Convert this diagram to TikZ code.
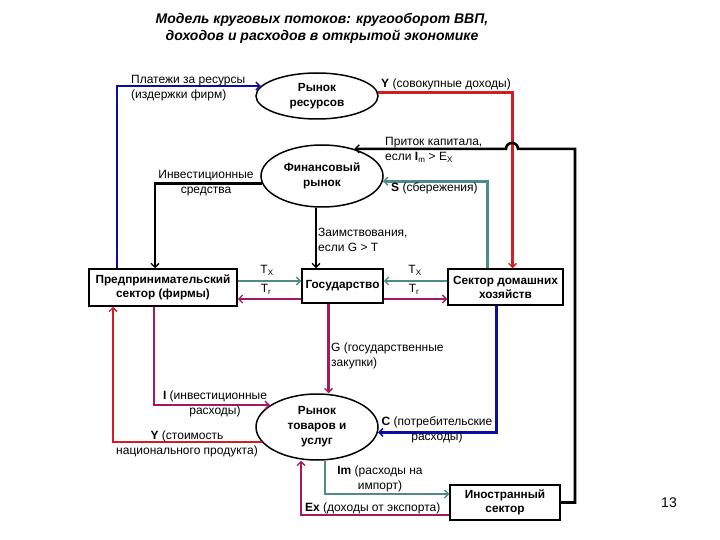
\documentclass[tikz,border=0pt]{standalone}
\usepackage{fontspec}
\setmainfont{Liberation Sans}
\usetikzlibrary{arrows.meta, shapes.geometric, positioning, calc}
\definecolor{flowblue}{RGB}{12,12,165}
\definecolor{flowred}{RGB}{210,30,35}
\definecolor{flowteal}{RGB}{78,138,140}
\definecolor{flowmag}{RGB}{165,25,95}
\tikzset{
  market/.style={ellipse, draw, line width=1.5pt, minimum width=122pt, inner sep=0pt,
    align=center, font=\bfseries\fontsize{11.8}{15}\selectfont},
  sector/.style={rectangle, draw, line width=1.5pt, inner sep=0pt,
    align=center, font=\bfseries\fontsize{11.8}{14}\selectfont},
  flow/.style={line width=2.6pt, -{Straight Barb[length=4pt,width=8pt,line width=1.4pt]}},
  lbl/.style={inner sep=0pt, font=\fontsize{12}{14.5}\selectfont},
}
\begin{document}
\begin{tikzpicture}[x=1pt, y=-1pt]
  \useasboundingbox (0,0) rectangle (720,540);
  % title
  \node[inner sep=0pt, align=center, font=\bfseries\itshape\fontsize{14}{17}\selectfont] (title) at (322,28)
    {Модель круговых потоков: кругооборот ВВП,\\доходов и расходов в открытой экономике};
  % markets
  \node[market, minimum height=46pt] (res) at (317,96) {Рынок\\ресурсов};
  \node[market, minimum height=62pt] (fin) at (322,176) {Финансовый\\рынок};
  \node[market, minimum height=66pt] (goods) at (317,427) {Рынок\\товаров и\\услуг};
  % sectors
  \node[sector, minimum width=148pt, minimum height=37pt] (firms) at (163,287.5) {Предпринимательский\\сектор (фирмы)};
  \node[sector, minimum width=81pt, minimum height=34pt] (gov) at (342.5,286) {Государство};
  \node[sector, minimum width=115pt, minimum height=36pt] (hh) at (505.5,287) {Сектор домашних\\хозяйств};
  \node[sector, minimum width=110pt, minimum height=35pt] (foreign) at (505,502.5) {Иностранный\\сектор};
  % resource flows
  \draw[flow, flowblue] ([xshift=-46pt]firms.north) |- (res.170);
  \draw[flow, flowred] (res.3) -| ([xshift=7pt]hh.north);
  % capital inflow, hop over the red line
  \draw[flow, black] (foreign.east) -| (fin.40 -| 575,0) -- (fin.40 -| 518,0)
    arc[start angle=0, end angle=180, radius=6pt] -- (fin.40);
  \draw[flow, flowteal] ([xshift=-18pt]hh.north) |- (fin.-5);
  \draw[flow, black] (fin.187) -| ([xshift=-8pt]firms.north);
  \draw[flow, black] ([xshift=-6pt]fin.south) -- ([xshift=-6pt]fin.south |- gov.north);
  % taxes and transfers
  \draw[flow, flowteal] (firms.east |- 0,281) -- (gov.west |- 0,281);
  \draw[flow, flowmag] (gov.west |- 0,299) -- (firms.east |- 0,299);
  \draw[flow, flowteal] (hh.west |- 0,281) -- (gov.east |- 0,281);
  \draw[flow, flowmag] (gov.east |- 0,299) -- (hh.west |- 0,299);
  % spending flows
  \draw[flow, flowmag] ([xshift=-14pt]gov.south) -- ([xshift=-14pt]gov.south |- goods.north);
  \draw[flow, flowmag] ([xshift=-9pt]firms.south) |- (goods.155);
  \draw[flow, flowred] (goods.195) -| ([xshift=-50pt]firms.south);
  \draw[flow, flowblue] ([xshift=-9pt]hh.south) |- (goods.-5);
  \draw[flow, flowteal] ([xshift=8pt]goods.south) |- ([yshift=8.5pt]foreign.west);
  \draw[flow, flowmag] ([yshift=-12.5pt]foreign.west) -| ([xshift=-16pt]goods.south);
  % labels
  \node[lbl, align=left, anchor=west] (payLbl) at (131,88) {Платежи за ресурсы\\(издержки фирм)};
  \node[lbl, anchor=west] (incLbl) at (381,84) {\textbf{Y} (совокупные доходы)};
  \node[lbl, align=left, anchor=west] (capLbl) at (385,150) {Приток капитала,\\если \textbf{I}\textsubscript{m} > E\textsubscript{X}};
  \node[lbl, anchor=west] (savLbl) at (391,188) {\textbf{S} (сбережения)};
  \node[lbl, align=center] (invfLbl) at (206,183) {Инвестиционные\\средства};
  \node[lbl, align=left, anchor=west] (borLbl) at (318,240) {Заимствования,\\если G > T};
  \node[lbl] (txL) at (267,270) {T\textsubscript{X}};
  \node[lbl] (trL) at (266,289) {T\textsubscript{r}};
  \node[lbl] (txR) at (415,270) {T\textsubscript{X}};
  \node[lbl] (trR) at (414,289) {T\textsubscript{r}};
  \node[lbl, align=left, anchor=west] (gLbl) at (331,356) {G (государственные\\закупки)};
  \node[lbl, align=center] (iLbl) at (215,404) {\textbf{I} (инвестиционные\\расходы)};
  \node[lbl, align=center] (yLbl) at (187,444) {\textbf{Y} (стоимость\\национального продукта)};
  \node[lbl, align=center] (cLbl) at (437,430) {\textbf{C} (потребительские\\расходы)};
  \node[lbl, align=center] (imLbl) at (380,479) {\textbf{Im} (расходы на\\импорт)};
  \node[lbl, anchor=west] (exLbl) at (305,508) {\textbf{Ex} (доходы от экспорта)};
  \node[inner sep=0pt, font=\fontsize{14}{16}\selectfont] (pageNo) at (669,503) {13};
\end{tikzpicture}
\end{document}
